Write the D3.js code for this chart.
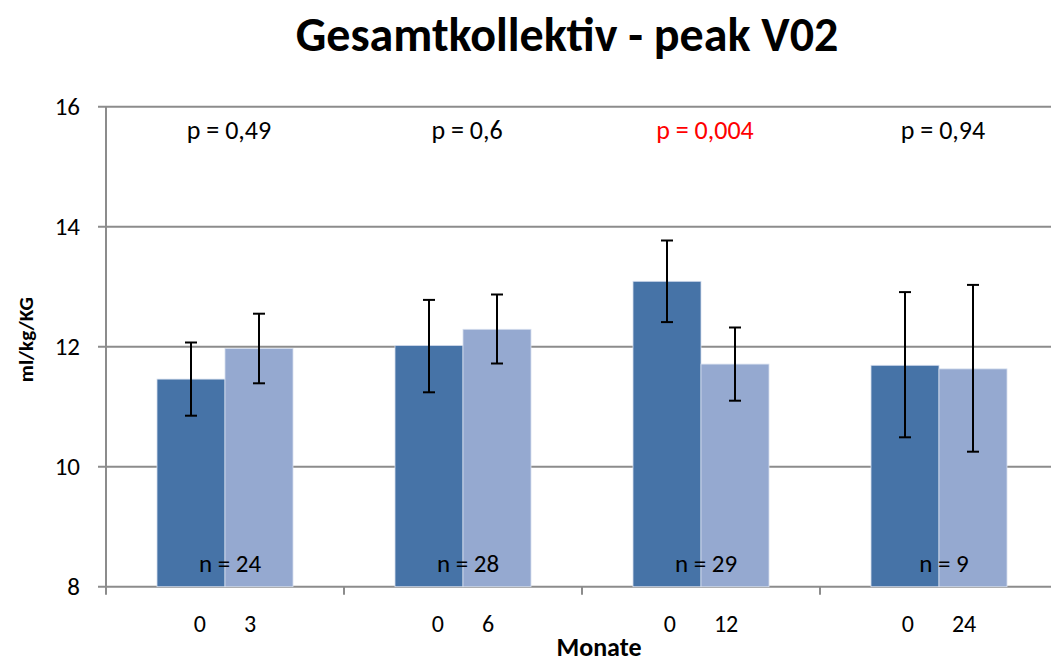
<!DOCTYPE html>
<html>
<head>
<meta charset="utf-8">
<script src="https://cdn.jsdelivr.net/npm/d3@7"></script>
<style>
  body { margin: 0; background: #fff; }
  text { font-family: Carlito, "Open Sans", "Noto Sans", sans-serif; }
</style>
</head>
<body>
<div id="chart"></div>
<script>
// data
const groups = ["3", "6", "12", "24"];
const baseline = [11.46, 12.02, 13.09, 11.69];
const followUp = [11.97, 12.29, 11.71, 11.63];
const baseLow = [10.85, 11.24, 12.41, 10.49];
const baseHigh = [12.07, 12.78, 13.77, 12.91];
const followLow = [11.39, 11.72, 11.10, 10.25];
const followHigh = [12.55, 12.87, 12.32, 13.03];
const pValues = ["p = 0,49", "p = 0,6", "p = 0,004", "p = 0,94"];
const pSignificant = [false, false, true, false];
const nLabels = ["n = 24", "n = 28", "n = 29", "n = 9"];
const yTicks = [8, 10, 12, 14, 16];

const width = 1051, height = 662;
const margin = { top: 106.7, right: -7, bottom: 75.3, left: 106 };

const svg = d3.select("#chart")
    .append("svg")
    .attr("width", width)
    .attr("height", height);

const x = d3.scaleBand()
    .domain(groups)
    .range([margin.left, width - margin.right]);

const y = d3.scaleLinear()
    .domain([8, 16])
    .range([height - margin.bottom, margin.top]);

const barW = x.bandwidth() * 68 / 238;
const mid = g => x(g) + x.bandwidth() / 2;

// gridlines
svg.append("g")
    .selectAll("line")
    .data(yTicks)
    .join("line")
    .attr("x1", margin.left - 8)
    .attr("x2", width)
    .attr("y1", d => y(d))
    .attr("y2", d => y(d))
    .attr("stroke", "#8c8c8c")
    .attr("stroke-width", 2);

// y tick labels
svg.append("g")
    .selectAll("text")
    .data(yTicks)
    .join("text")
    .attr("x", 80)
    .attr("y", d => y(d))
    .attr("dy", "0.35em")
    .attr("text-anchor", "end")
    .attr("font-size", 25)
    .attr("fill", "#000")
    .text(d => d);

// bars
const series = [
    { vals: baseline, lo: baseLow, hi: baseHigh, color: "#4673a7", off: -barW },
    { vals: followUp, lo: followLow, hi: followHigh, color: "#95a9d0", off: 0 }
];

series.forEach(s => {
    svg.append("g")
        .selectAll("rect")
        .data(groups)
        .join("rect")
        .attr("x", g => mid(g) + s.off)
        .attr("y", (g, i) => y(s.vals[i]))
        .attr("width", barW)
        .attr("height", (g, i) => y(8) - y(s.vals[i]))
        .attr("fill", s.color)
        .attr("stroke", "#d6dfee")
        .attr("stroke-width", 0.8);
});

// error bars
series.forEach(s => {
    const cx = g => mid(g) + s.off + barW / 2;
    const eb = svg.append("g").selectAll("g")
        .data(groups)
        .join("g");
    eb.append("line")
        .attr("x1", cx).attr("x2", cx)
        .attr("y1", (g, i) => y(s.lo[i]))
        .attr("y2", (g, i) => y(s.hi[i]))
        .attr("stroke", "#000").attr("stroke-width", 2);
    [s.lo, s.hi].forEach(arr => {
        eb.append("line")
            .attr("x1", g => cx(g) - 6).attr("x2", g => cx(g) + 6)
            .attr("y1", (g, i) => y(arr[i]))
            .attr("y2", (g, i) => y(arr[i]))
            .attr("stroke", "#000").attr("stroke-width", 2);
    });
});

// axis lines and ticks
svg.append("line")
    .attr("x1", margin.left).attr("x2", margin.left)
    .attr("y1", y(16)).attr("y2", y(8) + 8)
    .attr("stroke", "#8c8c8c").attr("stroke-width", 2);

svg.append("g")
    .selectAll("line")
    .data(groups.slice(1))
    .join("line")
    .attr("x1", g => x(g)).attr("x2", g => x(g))
    .attr("y1", y(8)).attr("y2", y(8) + 8)
    .attr("stroke", "#8c8c8c").attr("stroke-width", 2);

// x category labels
svg.append("g")
    .selectAll("text")
    .data(groups)
    .join("text")
    .attr("x", mid)
    .attr("y", 632)
    .attr("text-anchor", "middle")
    .attr("font-size", 24)
    .style("white-space", "pre")
    .text(g => "0       " + g);

// p values
svg.append("g")
    .selectAll("text")
    .data(groups)
    .join("text")
    .attr("x", g => mid(g) + 4)
    .attr("y", 139)
    .attr("text-anchor", "middle")
    .attr("font-size", 26)
    .attr("fill", (g, i) => pSignificant[i] ? "#ff0000" : "#000")
    .text((g, i) => pValues[i]);

// n labels
svg.append("g")
    .selectAll("text")
    .data(groups)
    .join("text")
    .attr("x", g => mid(g) + 5)
    .attr("y", 572)
    .attr("text-anchor", "middle")
    .attr("font-size", 25)
    .text((g, i) => nLabels[i]);

// title
svg.append("text")
    .attr("x", 567)
    .attr("y", 51)
    .attr("text-anchor", "middle")
    .attr("font-size", 48)
    .attr("font-weight", "bold")
    .text("Gesamtkollektiv - peak V02");

// axis titles
svg.append("text")
    .attr("transform", `translate(33,${(y(8) + y(16)) / 2 - 7}) rotate(-90)`)
    .attr("text-anchor", "middle")
    .attr("font-size", 21)
    .attr("font-weight", "bold")
    .text("ml/kg/KG");

svg.append("text")
    .attr("x", 599)
    .attr("y", 656)
    .attr("text-anchor", "middle")
    .attr("font-size", 26)
    .attr("font-weight", "bold")
    .text("Monate");
</script>
</body>
</html>
